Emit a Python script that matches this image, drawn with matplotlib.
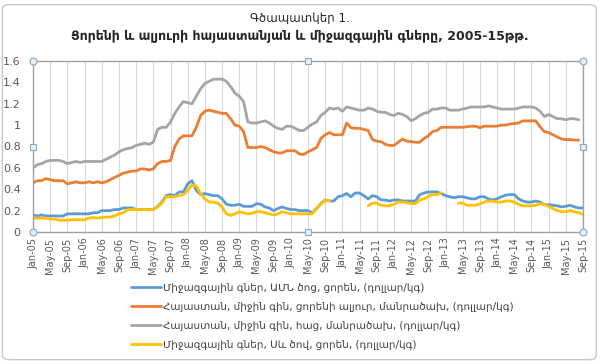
import matplotlib
matplotlib.use("Agg")
import matplotlib.pyplot as plt
import numpy as np
from matplotlib.patches import FancyBboxPatch

plt.rcParams['font.family'] = ['DejaVu Sans']

title_line1 = "Գծապատկեր 1."
title_line2 = "Ցորենի և ալյուրի հայաստանյան և միջազգային գները, 2005-15թթ."

series_names = [
    "Միջազգային գներ, ԱՄՆ ծոց, ցորեն, (դոլլար/կգ)",
    "Հայաստան, միջին գին, ցորենի ալյուր, մանրածախ, (դոլլար/կգ)",
    "Հայաստան, միջին գին, հաց, մանրածախ, (դոլլար/կգ)",
    "Միջազգային գներ, Սև ծով, ցորեն, (դոլլար/կգ)",
]

tick_labels = ["Jan-05", "May-05", "Sep-05", "Jan-06", "May-06", "Sep-06", "Jan-07",
               "May-07", "Sep-07", "Jan-08", "May-08", "Sep-08", "Jan-09", "May-09",
               "Sep-09", "Jan-10", "May-10", "Sep-10", "Jan-11", "May-11", "Sep-11",
               "Jan-12", "May-12", "Sep-12", "Jan-13", "May-13", "Sep-13", "Jan-14",
               "May-14", "Sep-14", "Jan-15", "May-15", "Sep-15"]

N = None
# monthly values Jan-05 .. Sep-15 (129 months)
us_gulf_wheat = [
    0.16, 0.15, 0.16, 0.15, 0.15, 0.15, 0.15, 0.15, 0.17, 0.17, 0.17, 0.17, 0.17, 0.17, 0.18, 0.18,
    0.20, 0.20, 0.20, 0.21, 0.21, 0.225, 0.225, 0.225, 0.21, 0.21, 0.21, 0.21, 0.21, 0.24, 0.28, 0.34,
    0.35, 0.34, 0.375, 0.375, 0.45, 0.48, 0.39, 0.35, 0.36, 0.35, 0.34, 0.34, 0.31, 0.26, 0.25, 0.25,
    0.26, 0.24, 0.24, 0.24, 0.265, 0.26, 0.235, 0.225, 0.20, 0.22, 0.235, 0.22, 0.21, 0.21, 0.20, 0.20,
    0.20, 0.18, 0.22, 0.265, 0.30, 0.29, 0.29, 0.33, 0.34, 0.36, 0.33, 0.365, 0.365, 0.34, 0.31, 0.34,
    0.33, 0.30, 0.30, 0.29, 0.30, 0.30, 0.29, 0.29, 0.29, 0.29, 0.35, 0.365, 0.375, 0.375, 0.375, 0.36,
    0.34, 0.33, 0.32, 0.33, 0.33, 0.32, 0.31, 0.31, 0.33, 0.33, 0.31, 0.30, 0.31, 0.33, 0.345, 0.35,
    0.35, 0.31, 0.29, 0.28, 0.28, 0.29, 0.28, 0.255, 0.255, 0.25, 0.245, 0.235, 0.24, 0.25, 0.235, 0.225,
    0.225]

am_flour = [
    0.46, 0.48, 0.48, 0.50, 0.49, 0.48, 0.48, 0.48, 0.45, 0.46, 0.47, 0.46, 0.46, 0.47, 0.46, 0.47,
    0.46, 0.47, 0.49, 0.51, 0.53, 0.55, 0.56, 0.57, 0.57, 0.59, 0.59, 0.58, 0.59, 0.64, 0.66, 0.66,
    0.67, 0.80, 0.87, 0.90, 0.90, 0.90, 0.98, 1.09, 1.13, 1.14, 1.13, 1.12, 1.11, 1.11, 1.06, 1.00,
    0.99, 0.94, 0.79, 0.79, 0.79, 0.80, 0.79, 0.77, 0.75, 0.74, 0.74, 0.76, 0.76, 0.76, 0.73, 0.725,
    0.75, 0.77, 0.79, 0.875, 0.91, 0.93, 0.91, 0.91, 0.91, 1.02, 0.975, 0.97, 0.97, 0.96, 0.95, 0.865,
    0.85, 0.845, 0.82, 0.81, 0.81, 0.84, 0.87, 0.85, 0.845, 0.84, 0.84, 0.875, 0.90, 0.94, 0.95, 0.98,
    0.98, 0.98, 0.98, 0.98, 0.98, 0.985, 0.99, 0.99, 0.975, 0.99, 0.99, 0.99, 0.99, 1.00, 1.00, 1.01,
    1.015, 1.02, 1.04, 1.04, 1.04, 1.04, 0.985, 0.94, 0.93, 0.91, 0.89, 0.87, 0.865, 0.865, 0.86, 0.86,
    N]

am_bread = [
    0.60, 0.63, 0.64, 0.66, 0.67, 0.67, 0.67, 0.66, 0.64, 0.65, 0.66, 0.65, 0.66, 0.66, 0.66, 0.66,
    0.66, 0.68, 0.70, 0.72, 0.75, 0.77, 0.78, 0.79, 0.81, 0.82, 0.83, 0.82, 0.84, 0.96, 0.98, 0.98,
    1.03, 1.11, 1.17, 1.22, 1.21, 1.20, 1.27, 1.34, 1.39, 1.41, 1.43, 1.43, 1.43, 1.41, 1.36, 1.30,
    1.27, 1.22, 1.03, 1.02, 1.02, 1.03, 1.04, 1.02, 0.99, 0.97, 0.96, 0.99, 0.99, 0.97, 0.95, 0.95,
    0.98, 1.01, 1.03, 1.09, 1.12, 1.16, 1.15, 1.16, 1.13, 1.17, 1.16, 1.15, 1.14, 1.14, 1.16, 1.15,
    1.13, 1.12, 1.12, 1.10, 1.09, 1.11, 1.10, 1.08, 1.04, 1.06, 1.09, 1.11, 1.12, 1.15, 1.15, 1.16,
    1.16, 1.14, 1.14, 1.14, 1.15, 1.16, 1.17, 1.17, 1.17, 1.17, 1.18, 1.17, 1.16, 1.15, 1.15, 1.15,
    1.15, 1.16, 1.17, 1.17, 1.17, 1.16, 1.13, 1.08, 1.10, 1.08, 1.06, 1.06, 1.05, 1.06, 1.06, 1.05,
    N]

black_sea_wheat = [
    0.13, 0.13, 0.13, 0.13, 0.12, 0.12, 0.11, 0.11, 0.11, 0.115, 0.115, 0.115, 0.115, 0.13, 0.135, 0.13,
    0.135, 0.14, 0.14, 0.15, 0.17, 0.18, 0.21, 0.21, 0.21, 0.21, 0.21, 0.21, 0.21, 0.235, 0.27, 0.33,
    0.33, 0.33, 0.34, 0.35, 0.39, 0.44, 0.43, 0.36, 0.31, 0.28, 0.28, 0.27, 0.235, 0.17, 0.155, 0.17,
    0.19, 0.18, 0.17, 0.175, 0.19, 0.19, 0.18, 0.17, 0.16, 0.17, 0.19, 0.18, 0.17, 0.17, 0.17, 0.17,
    0.17, 0.17, 0.22, 0.26, 0.30, 0.29, N, N, N, N, N, N, N, N,
    0.245, 0.27, 0.27, 0.25, 0.245, 0.245, 0.26, 0.28, 0.28, 0.275, 0.265, 0.265, 0.30, 0.31, 0.335, 0.35,
    0.35, 0.365, N, N, N, 0.27, 0.27, 0.25, 0.25, 0.25, 0.265, 0.28, 0.29, 0.29, 0.28, 0.28,
    0.29, 0.29, 0.28, 0.26, 0.245, 0.245, 0.245, 0.25, 0.265, 0.26, 0.24, 0.22, 0.20, 0.19, 0.19, 0.20,
    0.19, 0.18, 0.165]

colors = ["#5B9BD5", "#ED7D31", "#A5A5A5", "#FFC000"]
all_series = [us_gulf_wheat, am_flour, am_bread, black_sea_wheat]

fig = plt.figure(figsize=(6.0, 3.64), dpi=100)
ax = fig.add_axes([33 / 600, 1 - 232 / 364, 550 / 600, 171 / 364])

months = np.arange(len(us_gulf_wheat))
for vals, col, name in zip(all_series, colors, series_names):
    y = np.array([np.nan if v is None else v for v in vals], dtype=float)
    ax.plot(months, y, color=col, lw=2.0, label=name, solid_capstyle='round')

ax.set_xlim(0, len(months) - 1)
ax.set_ylim(0, 1.6)
ax.set_yticks(np.arange(0, 1.61, 0.2))
ax.set_yticklabels(["0", "0.2", "0.4", "0.6", "0.8", "1", "1.2", "1.4", "1.6"])
ax.set_xticks(np.arange(0, len(months), 4))
ax.set_xticklabels(tick_labels, rotation=90)
ax.tick_params(axis='y', length=0, labelsize=8, colors="#595959", pad=9)
ax.tick_params(axis='x', length=0, labelsize=7, colors="#595959", pad=4)
ax.grid(axis='x', color="#d9d9d9", lw=0.8)
ax.set_axisbelow(True)
for s in ax.spines.values():
    s.set_color("#a0a0a0")
    s.set_linewidth(1.0)

# selection handles
hx = [0, 1, 0, 1]
hy = [0, 0, 1, 1]
ax.plot(hx, hy, 'o', ms=5, mfc="#e4eff7", mec="#8aa9c0", mew=0.8,
        transform=ax.transAxes, clip_on=False, zorder=10)
ax.plot([0, 1, 0.5, 0.5], [0.5, 0.5, 0, 1], 's', ms=4, mfc="#e4eff7", mec="#8aa9c0", mew=0.8,
        transform=ax.transAxes, clip_on=False, zorder=10)

fig.text(0.5, 1 - 18 / 364, title_line1, ha='center', va='center', fontsize=8.5, color="#262626")
fig.text(0.5, 1 - 36 / 364, title_line2, ha='center', va='center', fontsize=9,
         fontweight='bold', color="#262626")

fig.legend(loc='upper left', bbox_to_anchor=(131 / 600, 1 - 283 / 364), frameon=False,
           fontsize=7.5, handlelength=2.9, handletextpad=0.2, labelspacing=0.85,
           labelcolor="#404040", borderaxespad=0, borderpad=0)

border = FancyBboxPatch((0.004, 0.012), 0.99, 0.975, boxstyle="round,pad=0,rounding_size=0.012",
                        transform=fig.transFigure, fill=False, ec="#c8c8c8", lw=1.0)
fig.patches.append(border)

fig.savefig("out.png", dpi=100, facecolor="white")
